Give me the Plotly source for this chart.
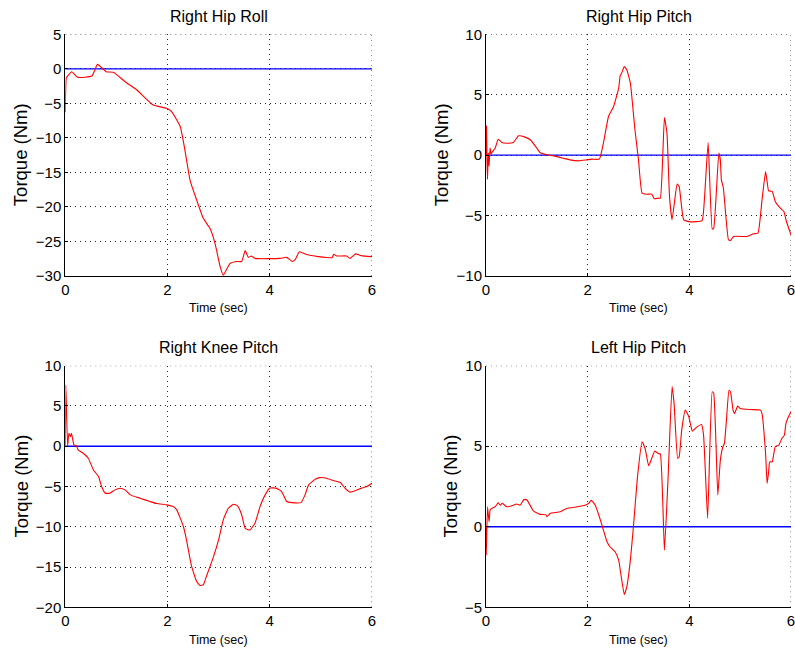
import plotly.graph_objects as go

# ---------------- data ----------------
t_hip_roll = [0.0, 0.02, 0.047, 0.125, 0.24, 0.52, 0.63, 0.80, 0.94, 1.17, 1.40, 1.72, 1.98, 2.08,
              2.25, 2.34, 2.44, 2.57, 2.70, 2.83, 2.93, 3.03, 3.09, 3.22, 3.35, 3.45, 3.52, 3.58, 3.64,
              3.71, 4.20, 4.33, 4.44, 4.50, 4.58, 4.72, 4.95, 5.22, 5.25, 5.31, 5.50, 5.57, 5.68, 5.79, 6.0]
tau_hip_roll = [-6.3, -1.3, -1.04, -0.42, -1.23, -1.04, 0.65, -0.42, -0.51, -1.87, -3.07, -5.24, -5.72, -6.2,
                -8.38, -11.76, -16.1, -19.0, -21.65, -23.1, -25.3, -28.65, -29.9, -28.2, -27.9, -27.9, -26.3, -27.3, -27.1,
                -27.45, -27.45, -27.3, -27.9, -27.6, -26.5, -26.9, -27.2, -27.35, -26.85, -27.1, -27.1, -27.45, -26.8, -27.05, -27.2]

t_r_hip_pitch = [0.0, 0.01, 0.02, 0.03, 0.045, 0.06, 0.08, 0.10, 0.13, 0.18, 0.24, 0.31, 0.41, 0.54, 0.64, 0.77,
                 0.87, 1.0, 1.06, 1.2, 1.33, 1.52, 1.65, 1.82, 1.98, 2.08, 2.23, 2.31, 2.41, 2.51, 2.61, 2.64,
                 2.67, 2.72, 2.77, 2.84, 2.93, 3.0, 3.07, 3.16, 3.26, 3.31, 3.39, 3.43, 3.51, 3.56, 3.61, 3.66,
                 3.76, 3.80, 3.89, 4.02, 4.25, 4.30, 4.37, 4.45, 4.48, 4.58, 4.61, 4.63, 4.67, 4.77, 4.81, 4.87,
                 5.13, 5.27, 5.35, 5.43, 5.50, 5.53, 5.56, 5.63, 5.69, 5.79, 5.86, 5.91, 6.0]
tau_r_hip_pitch = [0.0, 2.4, -0.5, -2.0, 0.2, -0.9, 0.6, 0.1, 0.3, 0.58, 1.32, 1.05, 0.99, 1.05, 1.6, 1.49,
                   1.27, 0.58, 0.22, 0.03, -0.06, -0.25, -0.39, -0.47, -0.39, -0.33, -0.33, 1.0, 3.2, 4.03, 5.54, 6.57,
                   6.8, 7.34, 7.06, 5.96, 2.1, -0.39, -3.14, -3.23, -3.23, -3.61, -3.56, -3.56, 3.12, 1.82, -3.42, -5.35,
                   -2.4, -2.6, -5.35, -5.52, -5.41, -3.42, 1.05, -6.12, -6.04, 0.17, -0.39, -2.04, -2.73, -7.0, -7.06, -6.73,
                   -6.73, -6.5, -6.46, -3.7, -1.35, -2.18, -2.95, -3.0, -3.83, -4.39, -4.66, -5.49, -6.6]

t_r_knee_pitch = [0.0, 0.01, 0.045, 0.07, 0.1, 0.12, 0.17, 0.22, 0.25, 0.35, 0.45, 0.55, 0.65, 0.71, 0.78, 0.87,
                  0.97, 1.07, 1.17, 1.27, 1.46, 1.66, 1.79, 1.98, 2.11, 2.18, 2.31, 2.37, 2.47, 2.57, 2.64, 2.70,
                  2.77, 2.90, 3.0, 3.09, 3.19, 3.29, 3.37, 3.45, 3.52, 3.61, 3.71, 3.81, 3.91, 4.0, 4.12, 4.23,
                  4.33, 4.43, 4.61, 4.69, 4.76, 4.89, 4.98, 5.11, 5.24, 5.38, 5.47, 5.57, 5.67, 5.8, 5.90, 6.0]
tau_r_knee_pitch = [0.0, 7.6, 0.0, 1.6, 1.2, 1.6, 0.17, 0.04, -0.45, -0.87, -1.49, -2.94, -3.77, -5.0, -5.83, -5.83,
                    -5.42, -5.21, -5.42, -6.04, -6.45, -6.87, -7.12, -7.28, -7.49, -7.9, -9.97, -11.6, -14.9, -16.8, -17.3, -17.2,
                    -16.0, -13.7, -11.6, -9.14, -7.7, -7.2, -7.4, -8.5, -10.2, -10.4, -9.56, -7.5, -6.04, -5.2, -5.2, -5.6,
                    -6.87, -7.0, -7.0, -6.04, -4.8, -4.1, -3.9, -3.97, -4.26, -4.5, -5.2, -5.7, -5.54, -5.2, -5.0, -4.6]

t_l_hip_pitch = [0.0, 0.005, 0.03, 0.06, 0.08, 0.11, 0.18, 0.24, 0.28, 0.32, 0.41, 0.54, 0.6, 0.67, 0.75, 0.81,
                 0.93, 1.06, 1.18, 1.2, 1.26, 1.46, 1.59, 1.79, 1.95, 2.02, 2.07, 2.15, 2.23, 2.31, 2.38, 2.44,
                 2.54, 2.61, 2.66, 2.72, 2.77, 2.84, 2.90, 2.98, 3.07, 3.13, 3.20, 3.26, 3.32, 3.39, 3.43, 3.51,
                 3.58, 3.66, 3.70, 3.77, 3.80, 3.85, 3.92, 3.99, 4.02, 4.06, 4.15, 4.24, 4.28, 4.36, 4.45, 4.48,
                 4.56, 4.61, 4.66, 4.69, 4.73, 4.78, 4.81, 4.86, 4.89, 4.95, 5.0, 5.2, 5.40, 5.43, 5.50, 5.53,
                 5.56, 5.58, 5.63, 5.69, 5.76, 5.82, 5.87, 5.90, 5.95, 6.0]
tau_l_hip_pitch = [0.0, -1.76, 1.24, 0.31, 1.03, 1.14, 1.24, 1.49, 1.34, 1.45, 1.24, 1.34, 1.41, 1.34, 1.7, 1.65,
                   0.99, 0.77, 0.74, 0.62, 0.83, 0.93, 1.14, 1.24, 1.34, 1.45, 1.65, 1.34, 0.62, -0.21, -0.93, -1.24,
                   -1.55, -2.07, -3.1, -4.2, -3.72, -2.07, 0.0, 3.1, 5.28, 4.86, 3.79, 4.24, 4.7, 4.55, 4.51, -1.45,
                   2.9, 8.7, 7.66, 4.24, 4.35, 6.0, 7.24, 6.83, 6.41, 5.94, 6.2, 6.35, 5.69, 0.52, 8.38, 8.28,
                   1.97, 4.14, 4.97, 5.17, 6.62, 8.48, 8.38, 7.24, 7.03, 7.49, 7.35, 7.28, 7.24, 7.03, 4.55, 2.69,
                   3.41, 4.03, 4.03, 4.97, 5.07, 5.48, 5.69, 6.41, 6.83, 7.14]

t_ref = [0, 6]
tau_ref = [0, 0]

titles = ["Right Hip Roll", "Right Hip Pitch", "Right Knee Pitch", "Left Hip Pitch"]
y_ranges = [[-30, 5], [-10, 10], [-20, 10], [-5, 10]]
y_dtick = [5, 5, 5, 5]
x_ticks = [0, 2, 4, 6]

series = [(t_hip_roll, tau_hip_roll), (t_r_hip_pitch, tau_r_hip_pitch),
          (t_r_knee_pitch, tau_r_knee_pitch), (t_l_hip_pitch, tau_l_hip_pitch)]

# ---------------- layout geometry (pixels) ----------------
W, H = 795, 648
xpix = [(65.3, 372.0), (486.0, 791.0), (65.3, 372.0), (486.0, 791.0)]
ypix = [(34.3, 276.0), (34.3, 276.0), (365.7, 607.3), (365.7, 607.3)]
ylabel_x = [20, 441, 21, 450]

FONT = "Liberation Sans, Arial, Helvetica, sans-serif"
GRID_DASH = "1px,4px"
GRID_COLOR = "#222222"

fig = go.Figure()
layout = dict(width=W, height=H, autosize=False, margin=dict(l=0, r=0, t=0, b=0, pad=0),
              paper_bgcolor="white", plot_bgcolor="white", showlegend=False,
              font=dict(family=FONT, color="black"))
annotations = []
shapes = []

for i in range(4):
    n = "" if i == 0 else str(i + 1)
    xa, ya = "x" + n, "y" + n
    t, tau = series[i]
    fig.add_trace(go.Scatter(x=t_ref, y=tau_ref, mode="lines", xaxis=xa, yaxis=ya,
                             line=dict(color="#0000ff", width=1.3), hoverinfo="skip"))
    fig.add_trace(go.Scatter(x=t, y=tau, mode="lines", xaxis=xa, yaxis=ya,
                             line=dict(color="#ff0000", width=1.1, shape="spline", smoothing=0.4)))
    x0, x1 = xpix[i]
    y0, y1 = ypix[i]
    common = dict(showline=True, linecolor="black", linewidth=1, ticks="inside", ticklen=3,
                  tickcolor="black", showgrid=True, gridcolor=GRID_COLOR, griddash=GRID_DASH,
                  gridwidth=1, zeroline=False, tickfont=dict(size=15, family=FONT, color="black"),
                  fixedrange=True, automargin=False, ticklabeloverflow="allow")
    layout["xaxis" + n] = dict(common, domain=[x0 / W, x1 / W], range=[0, 6],
                               tickvals=x_ticks, anchor=ya)
    layout["yaxis" + n] = dict(common, domain=[1 - y1 / H, 1 - y0 / H], range=y_ranges[i],
                               dtick=y_dtick[i], tick0=0, anchor=xa)
    shapes.append(dict(type="line", xref=xa, yref=ya, x0=0, x1=6,
                       y0=y_ranges[i][1], y1=y_ranges[i][1],
                       line=dict(color=GRID_COLOR, width=1, dash=GRID_DASH), layer="below"))
    shapes.append(dict(type="line", xref=xa, yref=ya, x0=6, x1=6,
                       y0=y_ranges[i][0], y1=y_ranges[i][1],
                       line=dict(color=GRID_COLOR, width=1, dash=GRID_DASH), layer="below"))
    cx = (x0 + x1) / 2
    title_y = 16 if i < 2 else 347
    xlabel_y = 308 if i < 2 else 640
    annotations.append(dict(text=titles[i], x=cx / W, y=1 - title_y / H, xref="paper", yref="paper",
                            xanchor="center", yanchor="middle", showarrow=False,
                            font=dict(size=16, family=FONT, color="black")))
    annotations.append(dict(text="Time (sec)", x=cx / W, y=1 - xlabel_y / H, xref="paper", yref="paper",
                            xanchor="center", yanchor="middle", showarrow=False,
                            font=dict(size=12.5, family=FONT, color="black")))
    annotations.append(dict(text="Torque (Nm)", x=ylabel_x[i] / W, y=1 - ((y0 + y1) / 2) / H,
                            xref="paper", yref="paper", xanchor="center", yanchor="middle",
                            textangle=-90, showarrow=False,
                            font=dict(size=18.5, family=FONT, color="black")))

layout["annotations"] = annotations
layout["shapes"] = shapes
fig.update_layout(**layout)
fig.write_html("out.html", config={"displayModeBar": False},
               post_script="document.body.style.margin='0';document.body.style.padding='0';"
                           "document.body.style.overflow='hidden';")
